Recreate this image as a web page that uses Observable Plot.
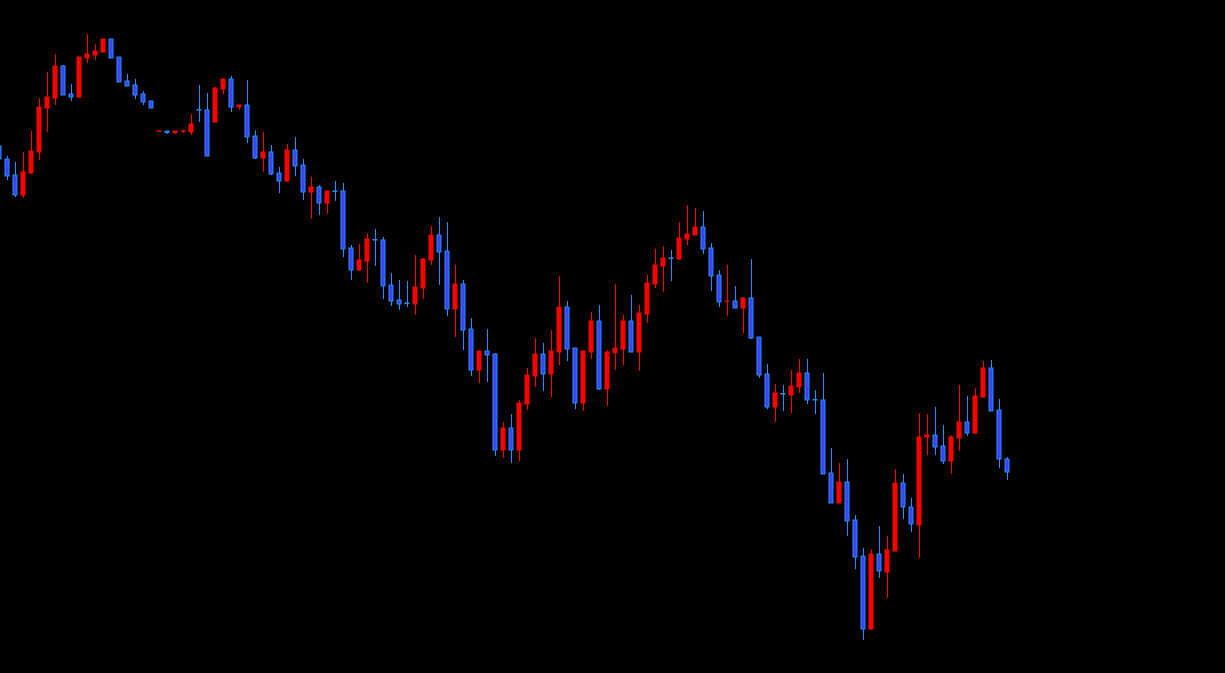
<!DOCTYPE html>
<html>
<head>
<meta charset="utf-8">
<script src="https://cdn.jsdelivr.net/npm/d3@7"></script>
<script src="https://cdn.jsdelivr.net/npm/@observablehq/plot@0.6"></script>
<style>
  html, body { margin: 0; padding: 0; background: #000; overflow: hidden; }
  #chart svg { display: block; }
</style>
</head>
<body>
<div id="chart"></div>
<script>
const open = [146,159,175,195,173,152,108,98,66,94,
  97,58,55,52,39,57,81,85,94,101,
  131.3,131,132.7,131.3,132,109.5,110,122,89,79,
  106.7,105,136,158,152,173,181,150,165,192,
  187,203,191,191,248,270,261,239.5,240,285,
  300,303,304,288,260,235,251,309,284,329,
  370,351,354,450,428,450,404,376,354,374,
  352,307,348,403,352,321,389,352.7,349,321,
  352,314,284,266,258,259,239,235,227,248,
  275,301.3,301,308,298,337,374,407,393.5,395,
  387,373,399.5,400,473,503,482,520,556,629,
  554,572,551,483,507,525,437,435,446,461,
  438,422,433,397,368,410,459];
const high = [144,156,162,152,131,98,72,54,65,84,
  57,34,44,39,39,57,74,79,91,101,
  131,131,131,129.7,114,85,93,87,79,76,
  105,80,130,132,145,167,144,137,159,177,
  185,191,181,183,245,244,233,229,237,273,
  280,281,255,258,226,217,222,265,280,318,
  351,329,353,422,414,400,368,338,343,330,
  276,301,348,350,312,305,350,284,315,295,
  305,275,249,246,250,222,205,208,211,243,
  270,265,286,297,259,337,364,384,385,370,
  359,359,390,373,448,463,459,515,548,549,
  526,536,469,474,498,413,414,407,425,435,
  385,396,388,361,360,399,457];
const low = [161,180,197,198,174,160,132,105,95,101,
  98,63,60,53,58,82,86,99,105,108,
  131.3,134,134,133,135,122,156,122,94,112,
  110,143,159,172,175,193,182,176,200,219,
  215,214,201,257,280,271,283,266,299,306,
  310,307,315,299,265,285,316,337,350,376,
  383,382,456,458,463,461,410,387,391,397,
  365,361,409,411,359,390,406,370,365,352,
  371,323,288,292,281,260,245,235,254,291,
  307,316,308,333,339,378,409,422,411,413,
  393,404,414,474,503,503,536,569,640,630,
  578,598,551,519,532,558,455,455,464,474,
  451,436,434,397,411,468,480];
const close = [159,176,195,172,151,107,97,66,95,97,
  57,54,51,39,58,82,86,95,102,108,
  131,132.5,131,131,124,110,156,88,79,107,
  105,137,158,152,174,181,150,166,192,187,
  203,191,191.5,249,270,260,239,240,286,301,
  304,303.5,287,259,235,252,309,284,330,370,
  351,355,450,428,450,403,375,354,374,351,
  307,349,403,351,321,389,352,348,321,352,
  313,283,265,258,258.5,238,234,227,249,276,
  302,301,308,298,338,375,407,393,394,386,
  373,400,400,474,503,482,521,557,629,554,
  571,550,483,507,524,437,435,447,461,437,
  422,433,396,368,411,459,472];

const upFill = "#ff0000", upLine = "#ff0000";
const downFill = "#4040ff", downLine = "#1e90ff";

const candles = open.map((o, i) => ({
  i, open: o, high: high[i], low: low[i], close: close[i],
  up: close[i] < o
}));
const halfBody = 0.25;

const chart = Plot.plot({
  width: 1225,
  height: 673,
  marginTop: 0, marginBottom: 0, marginLeft: 0, marginRight: 0,
  style: { background: "#000" },
  x: { type: "linear", domain: [0.0625, 153.1875], range: [-0.5, 1224.5], axis: null },
  y: { type: "linear", domain: [0, 673], range: [0, 673], axis: null },
  marks: [
    Plot.ruleX(candles, {
      x: "i", y1: "low", y2: "high",
      stroke: d => d.up ? upLine : downLine, strokeWidth: 1
    }),
    Plot.rect(candles, {
      x1: d => d.i - halfBody, x2: d => d.i + halfBody,
      y1: "open", y2: "close",
      fill: d => d.up ? upFill : downFill,
      stroke: d => d.up ? upLine : downLine, strokeWidth: 1
    })
  ]
});
document.getElementById("chart").append(chart);
</script>
</body>
</html>
